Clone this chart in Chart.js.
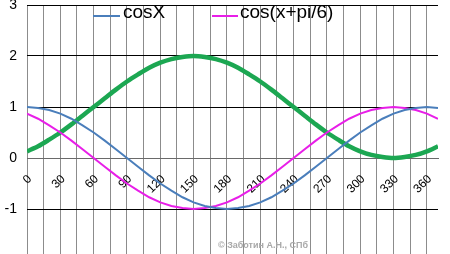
<!DOCTYPE html>
<html>
<head>
<meta charset="utf-8">
<script src="https://cdn.jsdelivr.net/npm/chart.js@4.4.1/dist/chart.umd.min.js"></script>
<style>
  html, body { margin: 0; padding: 0; background: #fff; overflow: hidden; }
  #wrap { width: 450px; height: 262px; }
</style>
</head>
<body>
<div id="wrap"><canvas id="cosChart" width="450" height="262"></canvas></div>
<script>
// angles in degrees
var angles = [0, 10, 20, 30, 40, 50, 60, 70, 80, 90, 100, 110, 120, 130, 140, 150, 160, 170, 180,
  190, 200, 210, 220, 230, 240, 250, 260, 270, 280, 290, 300, 310, 320, 330, 340, 350, 360, 370];

var cosX = [1, 0.98, 0.94, 0.87, 0.77, 0.64, 0.5, 0.34, 0.17, 0, -0.17, -0.34, -0.5, -0.64, -0.77, -0.87, -0.94, -0.98, -1,
  -0.98, -0.94, -0.87, -0.77, -0.64, -0.5, -0.34, -0.17, 0, 0.17, 0.34, 0.5, 0.64, 0.77, 0.87, 0.94, 0.98, 1, 0.98];

var cosShift = [0.87, 0.77, 0.64, 0.5, 0.34, 0.17, 0, -0.17, -0.34, -0.5, -0.64, -0.77, -0.87, -0.94, -0.98, -1, -0.98, -0.94, -0.87,
  -0.77, -0.64, -0.5, -0.34, -0.17, 0, 0.17, 0.34, 0.5, 0.64, 0.77, 0.87, 0.94, 0.98, 1, 0.98, 0.94, 0.87, 0.77];

var greenLine = [0.13, 0.23, 0.36, 0.5, 0.66, 0.83, 1, 1.17, 1.34, 1.5, 1.64, 1.77, 1.87, 1.94, 1.98, 2, 1.98, 1.94, 1.87,
  1.77, 1.64, 1.5, 1.34, 1.17, 1, 0.83, 0.66, 0.5, 0.36, 0.23, 0.13, 0.06, 0.02, 0, 0.02, 0.06, 0.13, 0.23];

var xTickLabels = [0, 30, 60, 90, 120, 150, 180, 210, 240, 270, 300, 330, 360];
var yTickLabels = [-2, -1, 0, 1, 2, 3];

var seriesNames = ['cosX', 'cos(x+pi/6)', ''];

function points(vals) {
  return angles.map(function (a, i) { return {x: a, y: vals[i]}; });
}

var FONT = 'Liberation Sans, Arial, sans-serif';

// legend drawn inside the plot like the original
var legendPlugin = {
  id: 'insideLegend',
  afterDraw: function (chart) {
    var ctx = chart.ctx;
    var items = [
      {ds: 0, x0: 93, x1: 120, tx: 123},
      {ds: 1, x0: 212, x1: 238, tx: 240}
    ];
    ctx.save();
    items.forEach(function (it) {
      var ds = chart.data.datasets[it.ds];
      ctx.strokeStyle = ds.borderColor;
      ctx.lineWidth = 2;
      ctx.beginPath();
      ctx.moveTo(it.x0, 16);
      ctx.lineTo(it.x1, 16);
      ctx.stroke();
      ctx.fillStyle = '#000';
      ctx.font = '19px ' + FONT;
      ctx.textBaseline = 'alphabetic';
      ctx.textAlign = 'left';
      ctx.fillText(ds.label, it.tx, 18);
    });
    ctx.font = 'bold 9px ' + FONT;
    ctx.fillStyle = '#a8a8a8';
    ctx.fillText('© Заботин А.Н., СПб', 218, 248);
    ctx.restore();
  }
};

new Chart(document.getElementById('cosChart').getContext('2d'), {
  type: 'line',
  data: {
    datasets: [{
      label: seriesNames[0],
      data: points(cosX),
      borderColor: '#4a7ebb',
      borderWidth: 2,
      pointRadius: 0,
      tension: 0
    }, {
      label: seriesNames[1],
      data: points(cosShift),
      borderColor: '#e81ee8',
      borderWidth: 2,
      pointRadius: 0,
      tension: 0
    }, {
      label: seriesNames[2],
      data: points(greenLine),
      borderColor: '#1ca752',
      borderWidth: 4.5,
      pointRadius: 0,
      tension: 0.3
    }]
  },
  options: {
    responsive: false,
    animation: false,
    layout: {padding: {left: 0, right: 12, top: 5, bottom: 2}},
    plugins: {
      legend: {display: false},
      tooltip: {enabled: false}
    },
    scales: {
      x: {
        type: 'linear',
        position: {y: 0},
        min: 0,
        max: 370,
        grid: {color: '#8c8c8c', lineWidth: 1, drawTicks: false},
        border: {display: true, color: '#6a6a6a', width: 1},
        ticks: {
          stepSize: 15,
          includeBounds: false,
          autoSkip: false,
          minRotation: 45,
          maxRotation: 45,
          padding: 14,
          labelOffset: 3,
          color: '#000',
          font: {family: FONT, size: 12},
          callback: function (v) { return xTickLabels.indexOf(v) >= 0 ? String(v) : ''; }
        },
        afterFit: function (s) { s.height = 0; s.paddingLeft = 0; s.paddingRight = 0; }
      },
      y: {
        min: yTickLabels[0],
        max: yTickLabels[yTickLabels.length - 1],
        grid: {
          color: function (c) { return c.tick && c.tick.value === 0 ? '#6a6a6a' : '#000'; },
          lineWidth: 1,
          drawTicks: false
        },
        border: {display: false},
        ticks: {
          stepSize: 1,
          padding: 10,
          color: '#000',
          font: {family: FONT, size: 14},
          callback: function (v) { return yTickLabels.indexOf(v) >= 0 && v > -2 ? String(v) : ''; }
        },
        afterFit: function (s) { s.width = 27; s.paddingTop = 0; s.paddingBottom = 0; }
      }
    }
  },
  plugins: [legendPlugin]
});
</script>
</body>
</html>
